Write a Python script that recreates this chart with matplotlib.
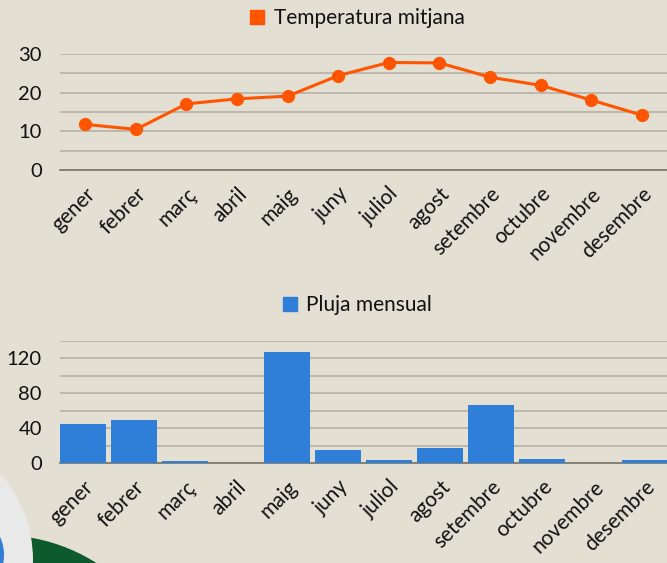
import matplotlib
matplotlib.use("Agg")
import matplotlib.pyplot as plt
import matplotlib.transforms as mtransforms
from matplotlib.patches import Ellipse
from matplotlib.lines import Line2D
import numpy as np

months = ["gener", "febrer", "març", "abril", "maig", "juny", "juliol",
          "agost", "setembre", "octubre", "novembre", "desembre"]
temperature = [11.8, 10.5, 17.1, 18.4, 19.1, 24.4, 27.8, 27.7, 24.0, 21.9, 18.1, 14.2]
rain = [45, 49, 2, 0, 127, 15, 3, 17, 66, 5, 0, 4]
temp_ticks = [0, 10, 20, 30]
rain_ticks = [0, 40, 80, 120]

BG = "#e3dfd3"
ORANGE = "#ff5500"
BLUE = "#2f7ed8"
GRID = "#b9b4a7"
ZERO = "#7d7a72"

plt.rcParams['font.family'] = ['Lato', 'DejaVu Sans']

W, H = 667, 563
fig = plt.figure(figsize=(W / 100, H / 100), dpi=100, facecolor=BG)

def fig_circle(cx, cy, r, color, z):
    e = Ellipse((cx / W, 1 - cy / H), 2 * r / W, 2 * r / H,
                transform=fig.transFigure, facecolor=color, edgecolor='none', zorder=z)
    fig.patches.append(e)

fig_circle(0, 715, 180, "#0c5a2e", 0)
fig_circle(-98, 560, 131, "#e9e9e9", 1)
fig_circle(-40, 555, 44, BLUE, 2)

def style_axis(ax, xlim, ymax, major, minor_step):
    ax.set_facecolor('none')
    ax.set_xlim(*xlim)
    ax.set_ylim(0, ymax)
    ax.set_yticks(major)
    ax.set_yticks(np.arange(0, ymax + 0.1, minor_step), minor=True)
    ax.grid(True, which='both', axis='y', color=GRID, linewidth=1.3, zorder=0)
    ax.set_axisbelow(True)
    for s in ['top', 'right', 'left']:
        ax.spines[s].set_visible(False)
    ax.spines['bottom'].set_color(ZERO)
    ax.spines['bottom'].set_linewidth(1.3)
    ax.tick_params(axis='y', which='both', length=0, pad=13, labelsize=14.5, labelcolor='#111111')
    ax.tick_params(axis='x', length=0, pad=15, labelsize=15, labelcolor='#111111')
    ax.set_xticks(range(len(months)))
    ax.set_xticklabels(months)
    offset = mtransforms.ScaledTranslation(5 / 72, 0, fig.dpi_scale_trans)
    for lab in ax.get_xticklabels():
        lab.set_rotation(45)
        lab.set_ha('right')
        lab.set_va('center')
        lab.set_rotation_mode('anchor')
        lab.set_transform(lab.get_transform() + offset)

# top chart
ax1 = fig.add_axes([60 / W, 1 - 170 / H, (W - 60) / W, 116 / H])
style_axis(ax1, (-0.5, 11.5), 30, temp_ticks, 5)
ax1.plot(range(len(months)), temperature, color=ORANGE, linewidth=2.2,
         marker='o', markersize=8.5, zorder=3, clip_on=False)
h1 = Line2D([], [], linestyle='none', marker='s', markersize=10, color=ORANGE)
ax1.legend([h1], ["Temperatura mitjana"], loc='center', bbox_to_anchor=(0.487, 1 + (54 - 18) / 116),
           frameon=False, fontsize=15, handletextpad=0.3, handlelength=1.0,
           borderpad=0, labelcolor='#111111')

# bottom chart
ax2 = fig.add_axes([60 / W, 1 - 463 / H, (W - 60) / W, 122 / H])
style_axis(ax2, (-0.45, 11.44), 140, rain_ticks, 20)
ax2.bar(range(len(months)), rain, width=0.9, color=BLUE, zorder=3)
h2 = Line2D([], [], linestyle='none', marker='s', markersize=10, color=BLUE)
ax2.legend([h2], ["Pluja mensual"], loc='center', bbox_to_anchor=(0.487, 1 + (341 - 305) / 122),
           frameon=False, fontsize=15, handletextpad=0.3, handlelength=1.0,
           borderpad=0, labelcolor='#111111')

fig.savefig("out.png", dpi=100, facecolor=BG)
